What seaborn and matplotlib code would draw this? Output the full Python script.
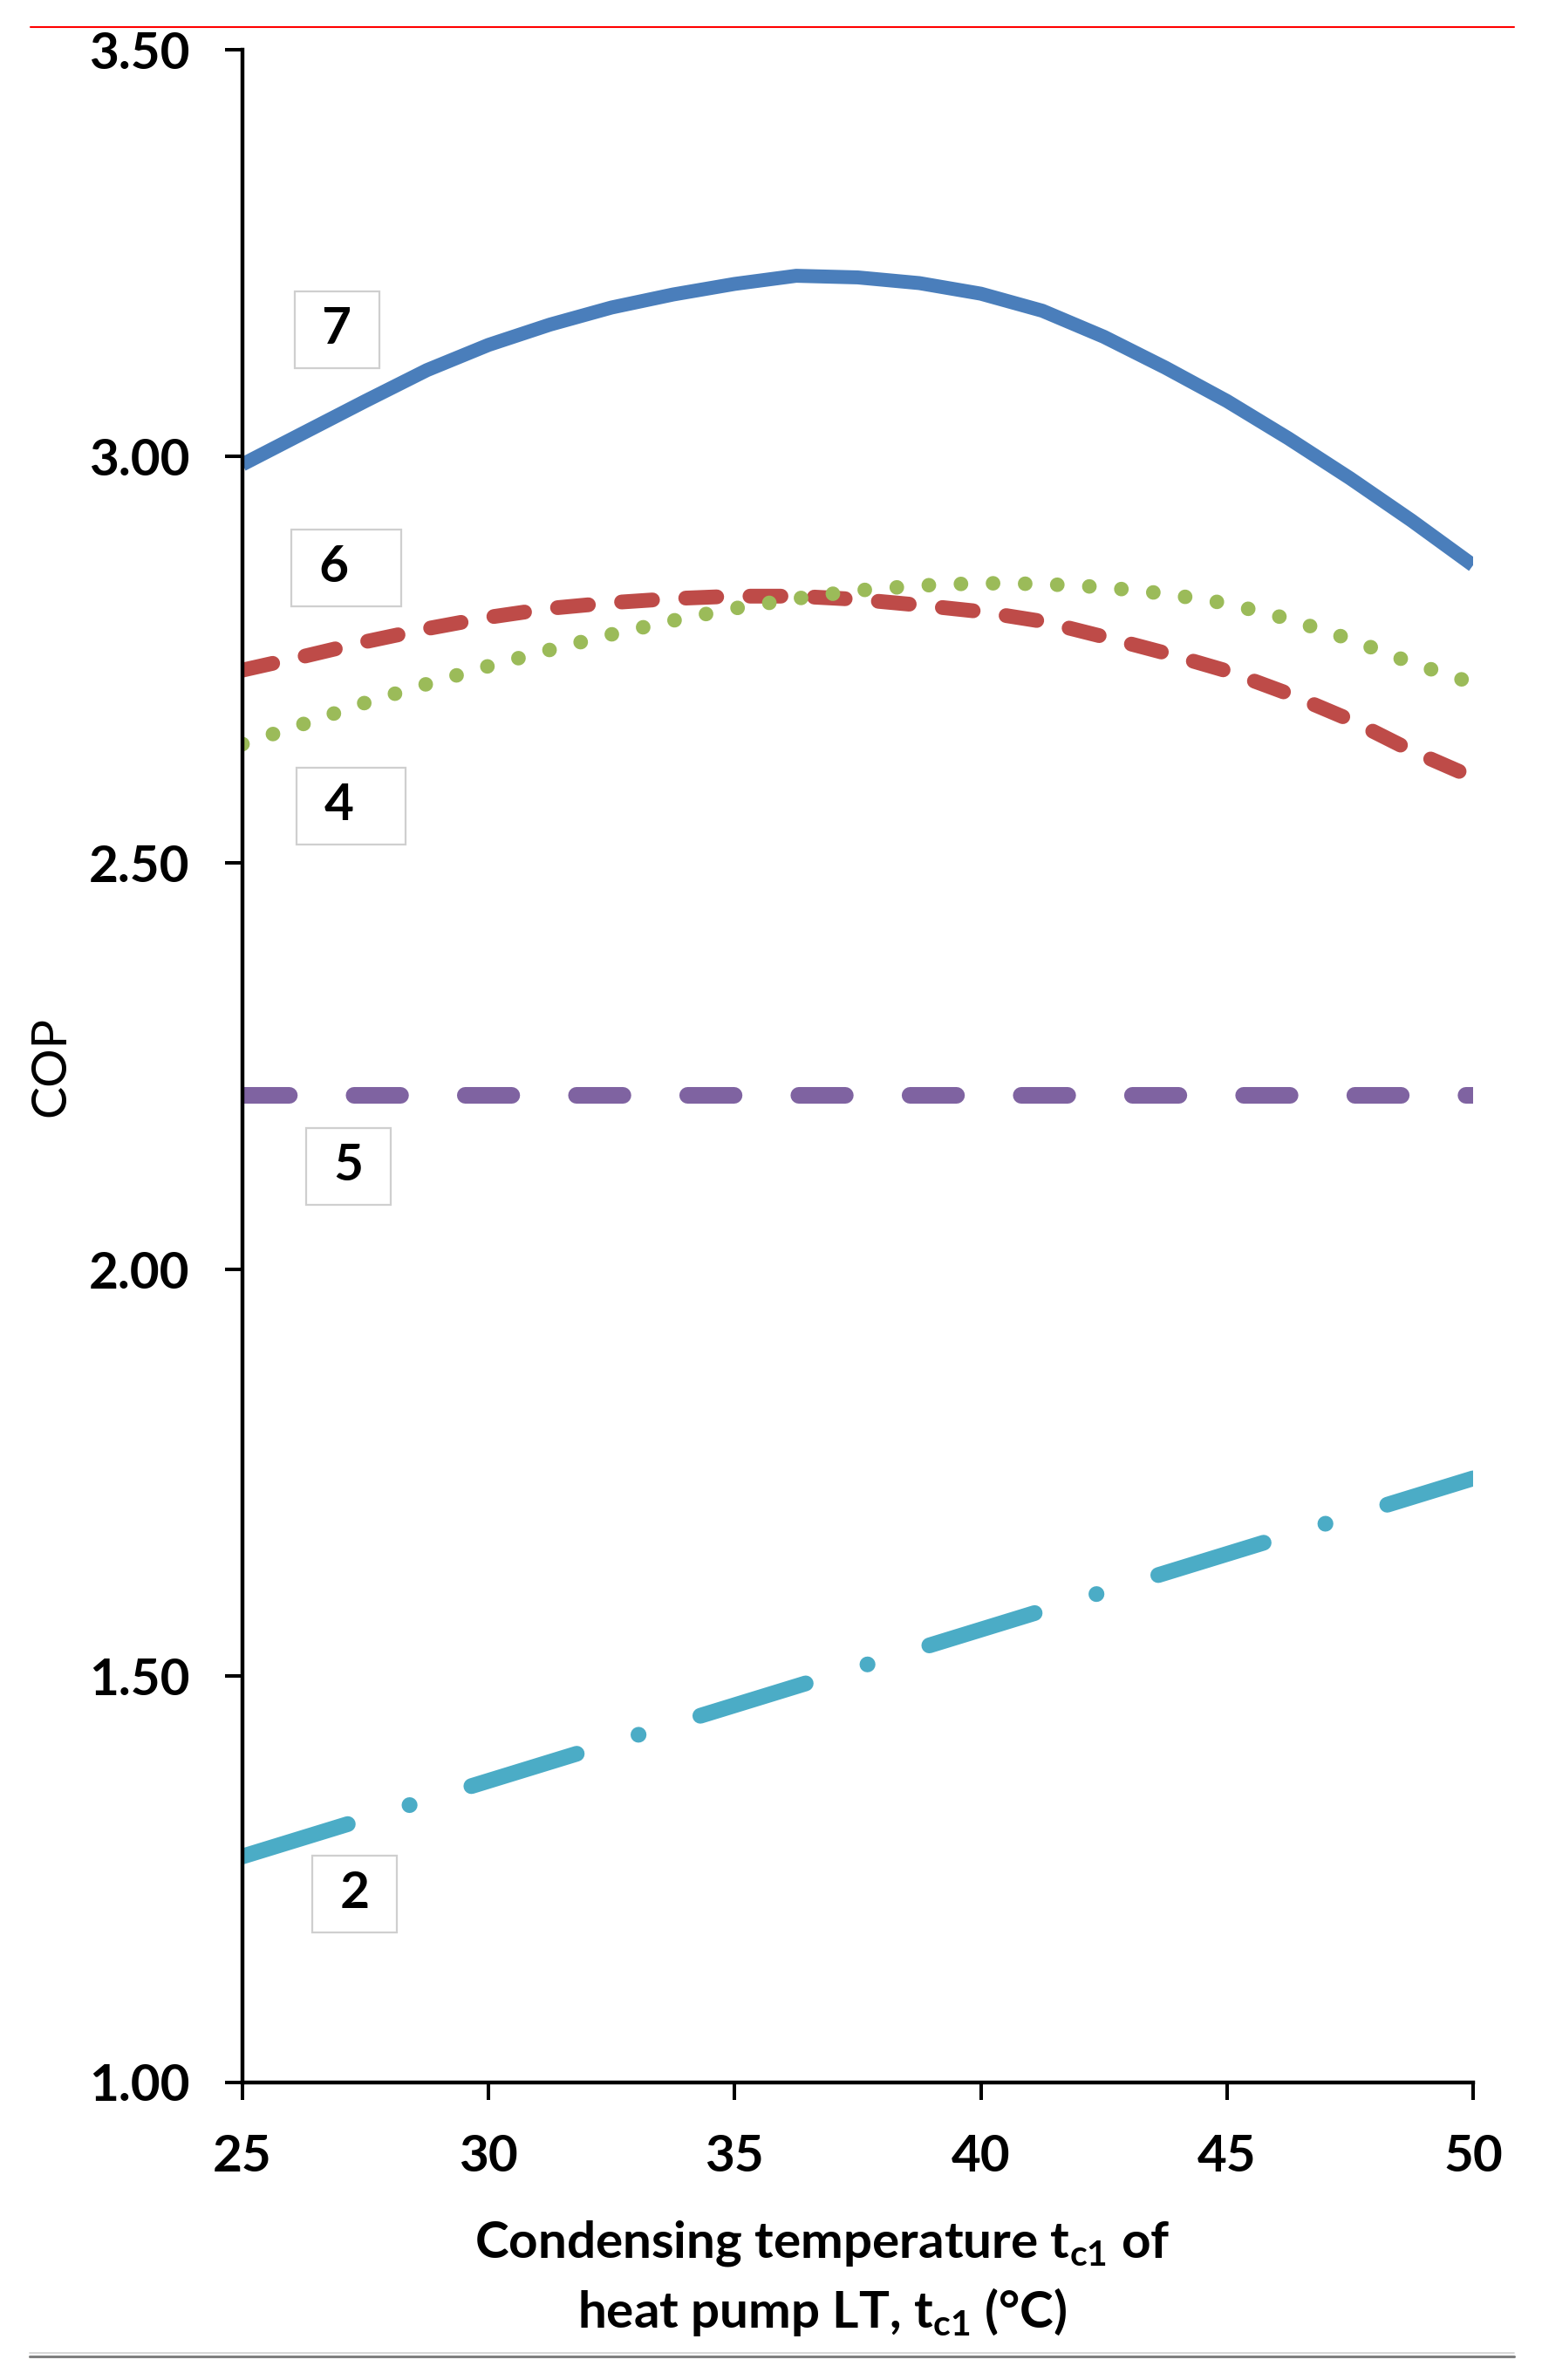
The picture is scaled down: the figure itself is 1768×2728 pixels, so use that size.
import matplotlib
matplotlib.use("Agg")
import matplotlib.pyplot as plt
from matplotlib.lines import Line2D
import seaborn as sns

# ---------------- data ----------------
temp_c1 = [25, 26.25, 27.5, 28.75, 30, 31.25, 32.5, 33.75, 35, 36.25, 37.5,
           38.75, 40, 41.25, 42.5, 43.75, 45, 46.25, 47.5, 48.75, 50]
cop_7 = [2.990, 3.029, 3.068, 3.106, 3.137, 3.162, 3.183, 3.199, 3.212, 3.222, 3.220,
         3.213, 3.200, 3.179, 3.147, 3.109, 3.068, 3.022, 2.973, 2.921, 2.866]
cop_6 = [2.737, 2.754, 2.772, 2.788, 2.802, 2.813, 2.820, 2.825, 2.828, 2.828, 2.824,
         2.817, 2.809, 2.797, 2.778, 2.758, 2.736, 2.708, 2.676, 2.638, 2.605]
cop_4 = [2.646, 2.671, 2.697, 2.720, 2.742, 2.762, 2.781, 2.798, 2.813, 2.825, 2.835,
         2.841, 2.844, 2.843, 2.839, 2.831, 2.819, 2.800, 2.775, 2.746, 2.721]
temp_ends = [25, 50]
cop_5 = [2.215, 2.215]
cop_2 = [1.278, 1.743]

curve_labels = ["7", "6", "4", "5", "2"]
label_x = [26.92, 27.11, 27.21, 27.16, 27.28]
label_y = [3.156, 2.863, 2.570, 2.127, 1.232]

x_ticks = [25, 30, 35, 40, 45, 50]
y_ticks = [1.00, 1.50, 2.00, 2.50, 3.00, 3.50]

x_title = "Condensing temperature t$_{c1}$ of\nheat pump LT, t$_{c1}$ (°C)"
y_title = "COP"

# ---------------- style ----------------
sns.set_style("ticks")
plt.rcParams["font.family"] = ["Lato", "DejaVu Sans"]
plt.rcParams["mathtext.fontset"] = "custom"
plt.rcParams["mathtext.rm"] = "Lato:bold"
plt.rcParams["mathtext.it"] = "Lato:bold"
plt.rcParams["mathtext.bf"] = "Lato:bold"
plt.rcParams["mathtext.default"] = "rm"

fig = plt.figure(figsize=(17.68, 27.28), dpi=100)
ax = fig.add_axes([0.1572, 0.1250, 0.7981, 0.8541])

series = [
    (temp_c1, cop_7, "#4A7EBB", 11.5, "-"),
    (temp_c1, cop_6, "#BE4B48", 12.2, (0, (2.1, 2.25))),
    (temp_c1, cop_4, "#9BBB59", 12.0, (0, (0.01, 2.2))),
    (temp_ends, cop_5, "#7F63A1", 13.7, (0, (2.8, 3.9))),
    (temp_ends, cop_2, "#4BACC6", 13.0, (0, (7.0, 4.1, 0.01, 4.1))),
]
for xs, ys, col, lw, ls in series:
    sns.lineplot(x=xs, y=ys, ax=ax, color=col, linewidth=lw, linestyle=ls,
                 dash_capstyle="round", solid_capstyle="butt",
                 solid_joinstyle="round", sort=False, errorbar=None)

ax.set_xlim(25, 50)
ax.set_ylim(1, 3.5)
ax.set_xticks(x_ticks)
ax.set_xticklabels([f"{v:d}" for v in x_ticks])
ax.set_yticks(y_ticks)
ax.set_yticklabels([f"{v:.2f}" for v in y_ticks])
ax.tick_params(axis="both", direction="out", length=14.4, width=2.9,
               color="black", labelsize=42, labelcolor="black")
ax.tick_params(axis="y", pad=29)
ax.tick_params(axis="x", pad=28)
for lab in ax.get_xticklabels() + ax.get_yticklabels():
    lab.set_fontweight("bold")

sns.despine(ax=ax)
for s in ["left", "bottom"]:
    ax.spines[s].set_linewidth(3.2)
    ax.spines[s].set_color("black")

ax.set_xlabel(x_title, fontsize=42, fontweight="bold", linespacing=1.42, color="black")
ax.xaxis.set_label_coords(0.4713, -0.067)
ax.set_ylabel(y_title, fontsize=40, va="center", color="black")
ax.yaxis.set_label_coords(-0.155, 0.5)

extra_space = ["", "  ", "  ", "", ""]
for lab, lx, ly, extra in zip(curve_labels, label_x, label_y, extra_space):
    ax.text(lx, ly, f" {lab} {extra}", ha="center", va="center", fontsize=42,
            fontweight="bold", color="black", zorder=5,
            bbox=dict(boxstyle="square,pad=0.3", fc="white", ec="#cfcfcf", lw=1.6))

# decorative page rules (top red, bottom gray)
fig.add_artist(Line2D([35 / 1768, 1736 / 1768], [1 - 31 / 2728] * 2,
                      color="#FF0000", lw=1.5))
fig.add_artist(Line2D([34 / 1768, 1736 / 1768], [1 - 2697 / 2728] * 2,
                      color="#D0D0D0", lw=1.2))
fig.add_artist(Line2D([34 / 1768, 1736 / 1768], [1 - 2701 / 2728] * 2,
                      color="#7F7F7F", lw=2.2))

fig.savefig("out.png", dpi=100)
